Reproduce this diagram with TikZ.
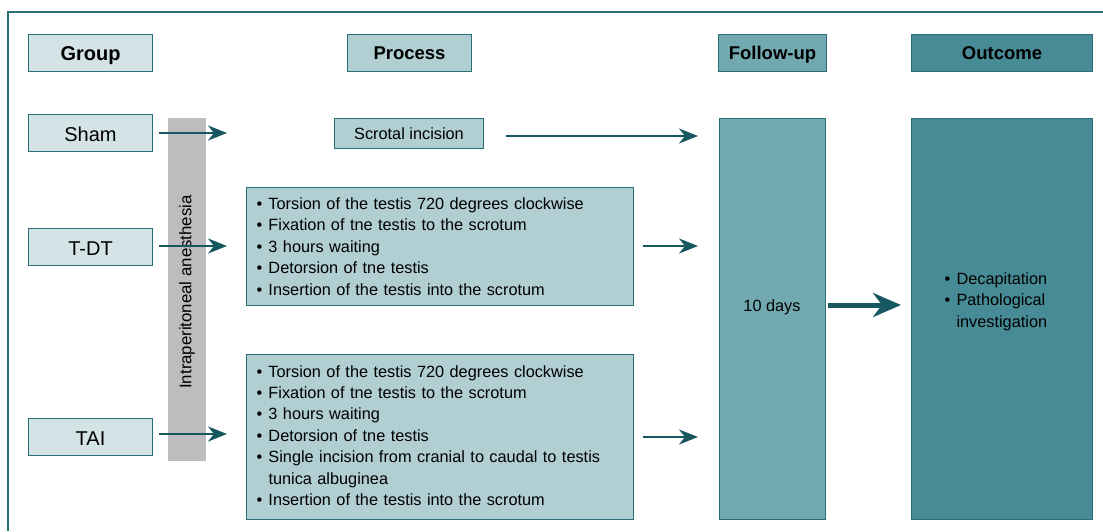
\documentclass[tikz,border=0pt]{standalone}
\usepackage{fontspec}
\setmainfont{Liberation Sans}
\usetikzlibrary{arrows.meta}
\definecolor{frameC}{HTML}{2A7079}
\definecolor{borderC}{HTML}{2A6F78}
\definecolor{arrowC}{HTML}{17575F}
\definecolor{lightC}{HTML}{D4E4E6}
\definecolor{procC}{HTML}{B1CED3}
\definecolor{followC}{HTML}{72A8B0}
\definecolor{outC}{HTML}{468B95}
\definecolor{barC}{HTML}{BDBDBF}
\tikzset{
  boxbase/.style={draw=borderC, line width=1pt, inner sep=0pt, anchor=north west},
  grp/.style={boxbase, fill=lightC, font=\fontsize{20}{24}\selectfont, text height=16.8pt, text depth=0pt},
  hdr/.style={font=\bfseries\fontsize{18.5}{22}\selectfont, text height=13.3pt, text depth=0pt},
  proc/.style={boxbase, fill=procC, font=\fontsize{16.3}{21.4}\selectfont},
  arr/.style={draw=arrowC, line width=2.2pt, -{Stealth[length=19pt, width=15pt, inset=6pt]}},
  bigarr/.style={draw=arrowC, line width=5pt, -{Stealth[length=28pt, width=24pt, inset=9pt]}},
}
\newcommand{\bitem}[1]{\makebox[12pt][l]{\textbullet}#1}
\begin{document}
\begin{tikzpicture}[x=1pt,y=-1pt]
\useasboundingbox (0,0) rectangle (1103,531);
% frame
\draw[frameC, line width=1.5pt] (8,531) -- (8,12) -- (1103,12);
% headers
\node[grp, hdr, minimum width=124pt, minimum height=37pt, font=\bfseries\fontsize{20}{24}\selectfont, text height=14.3pt] (hgroup) at (28,34) {Group};
\node[grp, hdr, fill=procC, minimum width=124pt, minimum height=37pt] (hproc) at (347,34) {Process};
\node[grp, hdr, fill=followC, minimum width=108pt, minimum height=37pt] (hfollow) at (718,34) {Follow-up};
\node[grp, hdr, fill=outC, minimum width=181pt, minimum height=37pt] (hout) at (911,34) {Outcome};
% groups
\node[grp, minimum width=124pt, minimum height=37pt] (sham) at (28,114) {Sham};
\node[grp, minimum width=124pt, minimum height=37pt] (tdt) at (28,228) {T-DT};
\node[grp, minimum width=124pt, minimum height=37pt] (tai) at (28,418) {TAI};
% anesthesia bar
\fill[barC] (168,118) rectangle (206,461);
\node[rotate=90, font=\fontsize{16.8}{20}\selectfont] (anest) at (187,292) {Intraperitoneal anesthesia};
% process boxes
\node[proc, minimum width=149pt, minimum height=30pt] (scrotal) at (334,118) {Scrotal incision};
\node[proc, minimum width=387pt, minimum height=118pt, text width=367pt, inner xsep=10pt, align=left] (ptdt) at (246,187) {%
\bitem{Torsion of the testis 720 degrees clockwise}\\
\bitem{Fixation of tne testis to the scrotum}\\
\bitem{3 hours waiting}\\
\bitem{Detorsion of tne testis}\\
\bitem{Insertion of the testis into the scrotum}};
\node[proc, minimum width=387pt, minimum height=165pt, text width=367pt, inner xsep=10pt, inner ysep=0pt, align=left] (ptai) at (246,354) {%
\bitem{Torsion of the testis 720 degrees clockwise}\\
\bitem{Fixation of tne testis to the scrotum}\\
\bitem{3 hours waiting}\\
\bitem{Detorsion of tne testis}\\
\bitem{Single incision from cranial to caudal to testis}\\
\hspace*{12pt}tunica albuginea\\
\bitem{Insertion of the testis into the scrotum}\vspace*{3pt}};
% follow-up and outcome
\node[proc, fill=followC, minimum width=106pt, minimum height=401pt] (follow) at (719,118) {};
\node[font=\fontsize{16.3}{20}\selectfont] (days) at (772,307.5) {10 days};
\node[proc, fill=outC, minimum width=181pt, minimum height=401pt] (outc) at (911,118) {};
\node[font=\fontsize{16.3}{21.4}\selectfont, align=left, anchor=west] (outtxt) at (941,301.5) {%
\bitem{Decapitation}\\
\bitem{Pathological}\\
\hspace*{12pt}investigation};
% arrows
\coordinate (s1) at (227,133);
\coordinate (t1) at (227,246);
\coordinate (a1) at (227,434);
\draw[arr] ([xshift=6pt]sham.east |- s1) -- (s1);
\draw[arr] ([xshift=6pt]tdt.east |- t1) -- (t1);
\draw[arr] ([xshift=6pt]tai.east |- a1) -- (a1);
\coordinate (s2a) at (506,136);
\coordinate (s2b) at (698,136);
\draw[arr] (s2a) -- (s2b);
\coordinate (t2a) at (643,246);
\coordinate (t2b) at (698,246);
\draw[arr] (t2a) -- (t2b);
\coordinate (a2a) at (643,437);
\coordinate (a2b) at (698,437);
\draw[arr] (a2a) -- (a2b);
\coordinate (b1) at (828,305);
\coordinate (b2) at (901,305);
\draw[bigarr] (b1) -- (b2);
\end{tikzpicture}
\end{document}
